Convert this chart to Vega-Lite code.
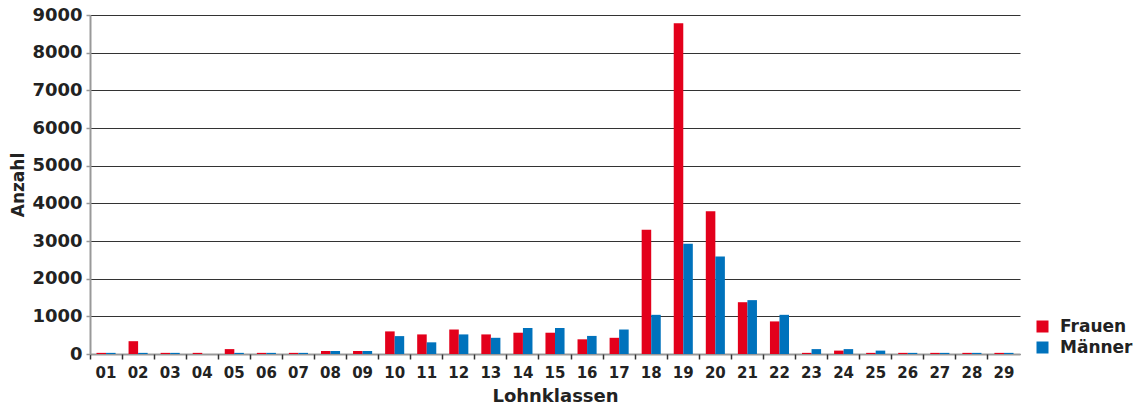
{
  "$schema": "https://vega.github.io/schema/vega-lite/v6.json",
  "width": 930,
  "height": 339,
  "autosize": "none",
  "padding": {"left": 90, "top": 15, "right": 117, "bottom": 51},
  "background": "white",
  "config": {"view": {"stroke": null}, "font": "DejaVu Sans"},
  "data": {"values": [
    {"k":"01","g":"Frauen","v":30},{"k":"01","g":"Männer","v":30},
    {"k":"02","g":"Frauen","v":340},{"k":"02","g":"Männer","v":30},
    {"k":"03","g":"Frauen","v":30},{"k":"03","g":"Männer","v":30},
    {"k":"04","g":"Frauen","v":30},{"k":"04","g":"Männer","v":0},
    {"k":"05","g":"Frauen","v":130},{"k":"05","g":"Männer","v":30},
    {"k":"06","g":"Frauen","v":30},{"k":"06","g":"Männer","v":30},
    {"k":"07","g":"Frauen","v":30},{"k":"07","g":"Männer","v":30},
    {"k":"08","g":"Frauen","v":80},{"k":"08","g":"Männer","v":80},
    {"k":"09","g":"Frauen","v":80},{"k":"09","g":"Männer","v":80},
    {"k":"10","g":"Frauen","v":600},{"k":"10","g":"Männer","v":475},
    {"k":"11","g":"Frauen","v":520},{"k":"11","g":"Männer","v":310},
    {"k":"12","g":"Frauen","v":650},{"k":"12","g":"Männer","v":520},
    {"k":"13","g":"Frauen","v":520},{"k":"13","g":"Männer","v":430},
    {"k":"14","g":"Frauen","v":565},{"k":"14","g":"Männer","v":690},
    {"k":"15","g":"Frauen","v":565},{"k":"15","g":"Männer","v":690},
    {"k":"16","g":"Frauen","v":390},{"k":"16","g":"Männer","v":480},
    {"k":"17","g":"Frauen","v":430},{"k":"17","g":"Männer","v":650},
    {"k":"18","g":"Frauen","v":3300},{"k":"18","g":"Männer","v":1040},
    {"k":"19","g":"Frauen","v":8780},{"k":"19","g":"Männer","v":2930},
    {"k":"20","g":"Frauen","v":3790},{"k":"20","g":"Männer","v":2590},
    {"k":"21","g":"Frauen","v":1375},{"k":"21","g":"Männer","v":1430},
    {"k":"22","g":"Frauen","v":865},{"k":"22","g":"Männer","v":1040},
    {"k":"23","g":"Frauen","v":30},{"k":"23","g":"Männer","v":130},
    {"k":"24","g":"Frauen","v":90},{"k":"24","g":"Männer","v":130},
    {"k":"25","g":"Frauen","v":30},{"k":"25","g":"Männer","v":90},
    {"k":"26","g":"Frauen","v":30},{"k":"26","g":"Männer","v":30},
    {"k":"27","g":"Frauen","v":30},{"k":"27","g":"Männer","v":30},
    {"k":"28","g":"Frauen","v":30},{"k":"28","g":"Männer","v":30},
    {"k":"29","g":"Frauen","v":30},{"k":"29","g":"Männer","v":30}
  ]},
  "layer": [
    {
      "mark": {"type": "bar"},
      "encoding": {
        "x": {
          "field": "k", "type": "nominal", "title": "Lohnklassen",
          "scale": {"paddingInner": 0, "paddingOuter": 0},
          "axis": {
            "orient": "bottom",
            "labelAngle": 0, "ticks": false, "labelPadding": 11,
            "labelFont": "DejaVu Sans", "labelFontWeight": "bold", "labelFontSize": 15, "labelColor": "#222",
            "domainColor": "#999", "domainWidth": 2,
            "titleFont": "DejaVu Sans", "titleFontWeight": "bold", "titleFontSize": 18, "titleColor": "#222",
            "titlePadding": 7
          }
        },
        "xOffset": {"field": "g", "type": "nominal", "scale": {"paddingOuter": 0.68, "paddingInner": 0}},
        "y": {
          "field": "v", "type": "quantitative", "title": "Anzahl",
          "scale": {"domain": [0, 9000], "nice": false},
          "axis": {
            "values": [0,1000,2000,3000,4000,5000,6000,7000,8000,9000],
            "format": "d",
            "grid": true, "gridColor": "#333", "gridWidth": 1.2,
            "domainColor": "#999", "domainWidth": 2,
            "tickColor": "#999", "tickSize": 4, "tickWidth": 1.5, "labelPadding": 4,
            "labelFont": "DejaVu Sans", "labelFontWeight": "bold", "labelFontSize": 18, "labelColor": "#222",
            "titleFont": "DejaVu Sans", "titleFontWeight": "bold", "titleFontSize": 17, "titleColor": "#222",
            "titleX": -72, "titleBaseline": "middle"
          }
        },
        "color": {
          "field": "g", "type": "nominal",
          "scale": {"domain": ["Frauen", "Männer"], "range": ["#e3001b", "#0072bc"]},
          "legend": {
            "title": null, "orient": "none", "legendX": 944, "legendY": 303,
            "symbolType": "square", "symbolSize": 144, "symbolStrokeWidth": 0, "symbolOpacity": 1,
            "labelFont": "DejaVu Sans", "labelFontWeight": "bold", "labelFontSize": 17, "labelColor": "#222",
            "labelOffset": 9, "rowPadding": 3, "padding": 0
          }
        }
      }
    },
    {
      "mark": {"type": "tick", "opacity": 0},
      "encoding": {
        "x": {
          "field": "k", "type": "nominal",
          "axis": {"orient": "bottom", "bandPosition": 0, "labels": false, "title": null, "domain": false,
                   "ticks": true, "tickSize": 5, "tickColor": "#333", "tickWidth": 1.5, "grid": false}
        }
      }
    }
  ],
  "resolve": {"axis": {"x": "independent"}}
}
